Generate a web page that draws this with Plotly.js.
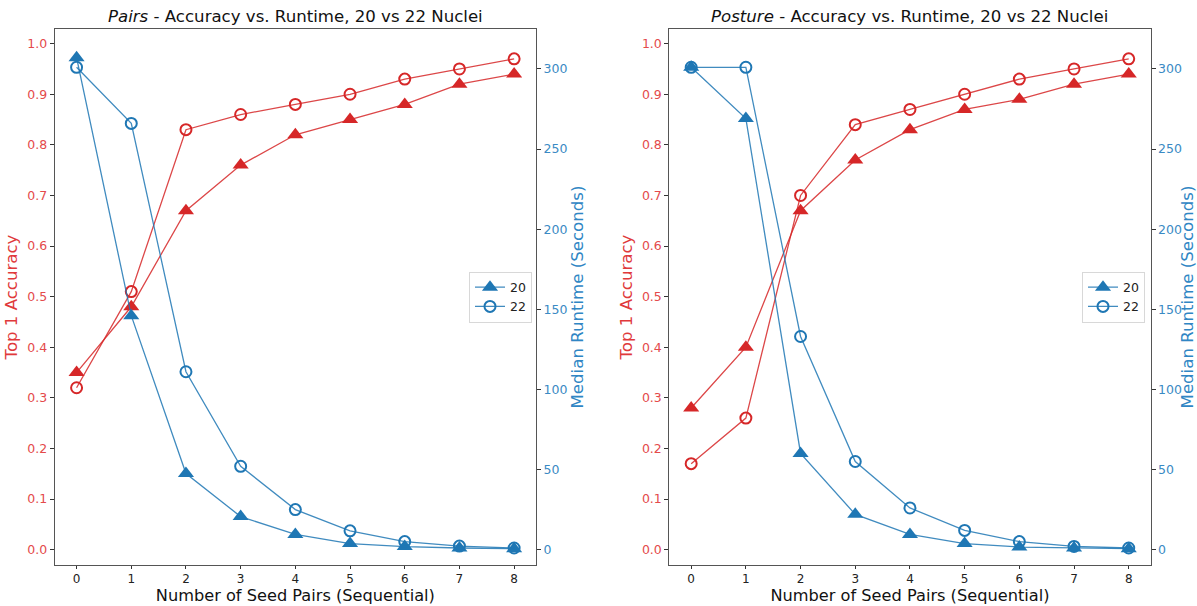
<!DOCTYPE html>
<html>
<head>
<meta charset="utf-8">
<script src="https://cdn.plot.ly/plotly-3.0.1.min.js"></script>
<style>html,body{margin:0;padding:0;background:#fff;}#chart{width:1197px;height:606px;}</style>
</head>
<body>
<div id="chart"></div>
<script>
// Data
const seedPairs = [0, 1, 2, 3, 4, 5, 6, 7, 8];
const seriesNames = ["20", "22"];

// Pairs
const pairsAcc20 = [0.35, 0.48, 0.67, 0.76, 0.82, 0.85, 0.88, 0.92, 0.94];
const pairsAcc22 = [0.32, 0.51, 0.83, 0.86, 0.88, 0.90, 0.93, 0.95, 0.97];
const pairsRun20 = [307, 146, 47.5, 20.6, 9.5, 3.8, 1.9, 1.0, 0.6];
const pairsRun22 = [301, 266, 111, 52, 25, 11.7, 5, 2.2, 1.0];

// Posture
const postureAcc20 = [0.28, 0.40, 0.67, 0.77, 0.83, 0.87, 0.89, 0.92, 0.94];
const postureAcc22 = [0.17, 0.26, 0.70, 0.84, 0.87, 0.90, 0.93, 0.95, 0.97];
const postureRun20 = [301, 269, 60, 22, 9.5, 3.8, 1.6, 1.0, 0.6];
const postureRun22 = [301, 301, 133, 55, 26, 12, 5, 2.0, 1.0];

const titles = ["<i>Pairs</i> - Accuracy vs. Runtime, 20 vs 22 Nuclei",
                "<i>Posture</i> - Accuracy vs. Runtime, 20 vs 22 Nuclei"];

const RED = '#d62728', BLUE = '#1f77b4';
const REDL = 'rgba(214,39,40,0.85)', BLUEL = 'rgba(31,119,180,0.85)';
const FONT = 'DejaVu Sans, sans-serif';

function tri(y, xa, ya, color, lcolor, name, legend, show) {
  return {x: seedPairs, y: y, xaxis: xa, yaxis: ya, mode: 'lines+markers', name: name,
    legend: legend, showlegend: show,
    line: {color: lcolor, width: 1.3},
    marker: {symbol: 'triangle-up', size: 14, color: color}};
}
function circ(y, xa, ya, color, lcolor, name, legend, show) {
  return {x: seedPairs, y: y, xaxis: xa, yaxis: ya, mode: 'lines+markers', name: name,
    legend: legend, showlegend: show,
    line: {color: lcolor, width: 1.3},
    marker: {symbol: 'circle-open', size: 11, color: color, line: {width: 2, color: color}}};
}

const data = [
  tri(pairsAcc20, 'x', 'y', RED, REDL, seriesNames[0], 'legend', false),
  circ(pairsAcc22, 'x', 'y', RED, REDL, seriesNames[1], 'legend', false),
  tri(pairsRun20, 'x', 'y2', BLUE, BLUEL, seriesNames[0], 'legend', true),
  circ(pairsRun22, 'x', 'y2', BLUE, BLUEL, seriesNames[1], 'legend', true),
  tri(postureAcc20, 'x2', 'y3', RED, REDL, seriesNames[0], 'legend2', false),
  circ(postureAcc22, 'x2', 'y3', RED, REDL, seriesNames[1], 'legend2', false),
  tri(postureRun20, 'x2', 'y4', BLUE, BLUEL, seriesNames[0], 'legend2', true),
  circ(postureRun22, 'x2', 'y4', BLUE, BLUEL, seriesNames[1], 'legend2', true)
];

const W = 1197;
const dom1 = [54.7 / W, 536 / W];
const dom2 = [669.3 / W, 1150.6 / W];

function xax(domain, anchor) {
  return {domain: domain, anchor: anchor, range: [-0.4, 8.4], tickvals: seedPairs,
    showgrid: false, zeroline: false, showline: true, mirror: true, linecolor: '#555', linewidth: 1,
    ticks: 'outside', ticklen: 3, tickcolor: '#333',
    tickfont: {family: FONT, size: 12, color: '#222'},
    title: {text: 'Number of Seed Pairs (Sequential)', font: {family: FONT, size: 16.2, color: '#111'}, standoff: 4}};
}
function yleft(anchor) {
  return {anchor: anchor, range: [-0.0303, 1.029], tickvals: [0,0.1,0.2,0.3,0.4,0.5,0.6,0.7,0.8,0.9,1.0],
    tickformat: '.1f', showgrid: false, zeroline: false, showline: true, linecolor: '#555', linewidth: 1,
    ticks: 'outside', ticklen: 4, tickcolor: '#333',
    tickfont: {family: FONT, size: 12.5, color: '#e44a4b'},
    title: {text: 'Top 1 Accuracy', font: {family: FONT, size: 16.6, color: '#e0393b'}, standoff: 5}};
}
function yright(anchor, over) {
  return {anchor: anchor, overlaying: over, side: 'right', range: [-9.6, 324.9],
    tickvals: [0, 50, 100, 150, 200, 250, 300],
    showgrid: false, zeroline: false, showline: true, linecolor: '#555', linewidth: 1,
    ticks: 'outside', ticklen: 4, tickcolor: '#333',
    tickfont: {family: FONT, size: 12.5, color: '#3a8ac4'},
    title: {text: 'Median Runtime (Seconds)', font: {family: FONT, size: 16.6, color: '#2f86c4'}, standoff: 4}};
}
function leg(xr) {
  return {x: xr, xanchor: 'right', y: 0.5, yanchor: 'middle', bgcolor: 'white',
    bordercolor: '#d8d8d8', borderwidth: 1, font: {family: FONT, size: 12.5, color: '#222'},
    tracegroupgap: 0, itemwidth: 30};
}

const layout = {
  width: 1197, height: 606,
  margin: {l: 0, r: 0, t: 29, b: 41},
  paper_bgcolor: 'white', plot_bgcolor: 'white',
  font: {family: FONT},
  xaxis: xax(dom1, 'y'),
  yaxis: yleft('x'),
  yaxis2: yright('x', 'y'),
  xaxis2: xax(dom2, 'y3'),
  yaxis3: yleft('x2'),
  yaxis4: yright('x2', 'y3'),
  legend: leg(532 / W),
  legend2: leg(1145 / W),
  annotations: [
    {text: titles[0], xref: 'paper', yref: 'paper', x: (dom1[0] + dom1[1]) / 2, xanchor: 'center', y: 1, yanchor: 'bottom',
     showarrow: false, yshift: 1, font: {family: FONT, size: 16.6, color: '#111'}},
    {text: titles[1], xref: 'paper', yref: 'paper', x: (dom2[0] + dom2[1]) / 2, xanchor: 'center', y: 1, yanchor: 'bottom',
     showarrow: false, yshift: 1, font: {family: FONT, size: 16.6, color: '#111'}}
  ]
};

Plotly.newPlot('chart', data, layout, {displayModeBar: false, staticPlot: true});
</script>
</body>
</html>
